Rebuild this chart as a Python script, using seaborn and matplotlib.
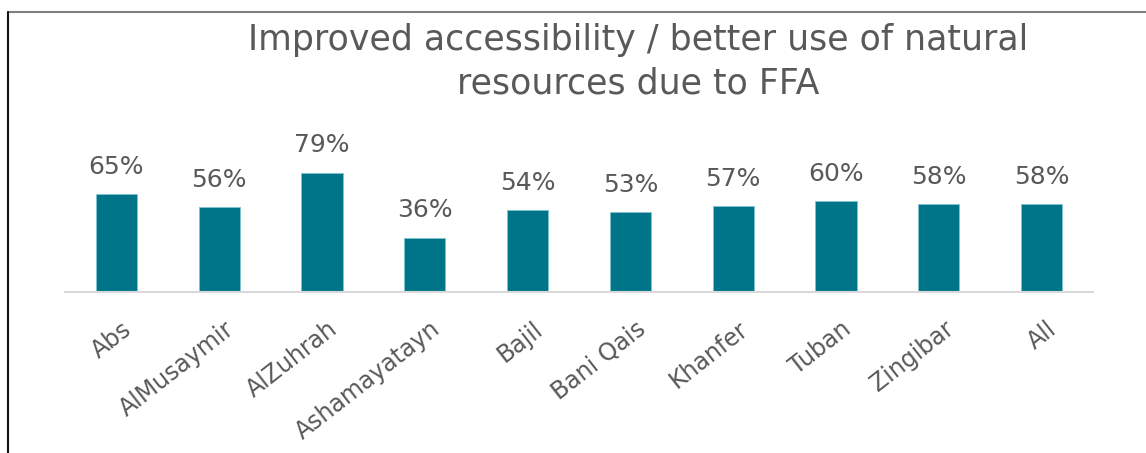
import matplotlib
matplotlib.use('Agg')
import matplotlib.pyplot as plt
import matplotlib.transforms as mtransforms
import seaborn as sns
import pandas as pd
from matplotlib.lines import Line2D

# chart data
districts = ['Abs', 'AlMusaymir', 'AlZuhrah', 'Ashamayatayn', 'Bajil',
             'Bani Qais', 'Khanfer', 'Tuban', 'Zingibar', 'All']
pct_values = [65, 56, 79, 36, 54, 53, 57, 60, 58, 58]

sns.set_style('white')
plt.rcParams['font.family'] = ['DejaVu Sans']

TEAL = '#00758A'
GREY = '#595959'

df = pd.DataFrame({'district': districts, 'pct': pct_values})

fig = plt.figure(figsize=(11.46, 4.53), dpi=100)
ax = fig.add_axes([65 / 1146, (453 - 292) / 453, (1093 - 65) / 1146, 136 / 453])

sns.barplot(data=df, x='district', y='pct', color=TEAL, width=0.4,
            saturation=1, edgecolor='#7fc4cf', linewidth=0.6, ax=ax)

ax.set_ylim(0, 90)
ax.set_xlim(-0.5, len(districts) - 0.5)
for container in ax.containers:
    ax.bar_label(container, labels=[f'{v}%' for v in pct_values],
                 padding=11, fontsize=18, color=GREY, clip_on=False)

ax.set_xlabel('')
ax.set_ylabel('')
ax.set_yticks([])
sns.despine(ax=ax, left=True)
ax.spines['bottom'].set_color('#d9d9d9')
ax.spines['bottom'].set_linewidth(1.5)
ax.tick_params(axis='x', length=0, pad=18)
ax.set_xticks(range(len(districts)))
ax.set_xticklabels(districts, rotation=38, ha='right', rotation_mode='anchor',
                   fontsize=17, color=GREY)
shift = mtransforms.ScaledTranslation(5 / 100, 0, fig.dpi_scale_trans)
for lbl in ax.get_xticklabels():
    lbl.set_transform(lbl.get_transform() + shift)

fig.text(638 / 1146, 1 - 40 / 453, 'Improved accessibility / better use of natural',
         ha='center', va='center', fontsize=25, color=GREY)
fig.text(638 / 1146, 1 - 83 / 453, 'resources due to FFA',
         ha='center', va='center', fontsize=25, color=GREY)

# frame lines (top and left only visible)
fig.add_artist(Line2D([8 / 1146, 1], [1 - 11.5 / 453, 1 - 11.5 / 453],
                      transform=fig.transFigure, color='#7f7f7f', linewidth=1.5))
fig.add_artist(Line2D([8 / 1146, 8 / 1146], [0, 1 - 11.5 / 453],
                      transform=fig.transFigure, color='#111111', linewidth=1.5))

fig.savefig('out.png', dpi=100)
